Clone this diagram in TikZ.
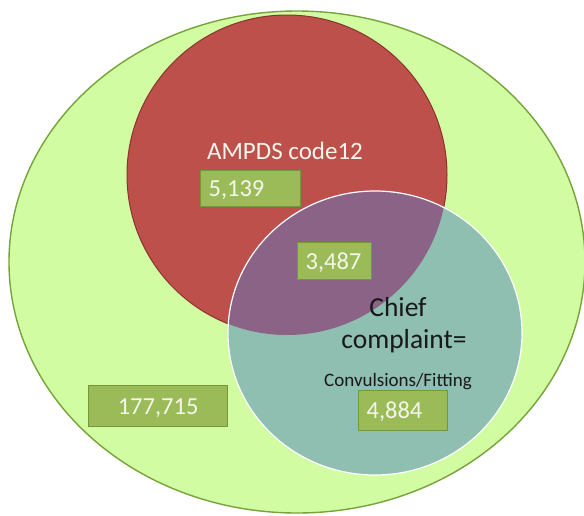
\documentclass[tikz,border=0pt]{standalone}
\usepackage{fontspec}
\setmainfont{Carlito}
\definecolor{outerfill}{HTML}{D1FCA2}
\definecolor{outerline}{HTML}{76A33A}
\definecolor{redfill}{HTML}{BE504C}
\definecolor{redline}{HTML}{8A3330}
\definecolor{tealfill}{HTML}{8EBFB0}
\definecolor{purplefill}{HTML}{8B6387}
\definecolor{boxfill}{HTML}{9BBB59}
\definecolor{boxline}{HTML}{739838}
\definecolor{numtext}{HTML}{F4F6EC}
\begin{document}
\begin{tikzpicture}[x=1pt,y=-1pt,
  outerset/.style={fill=outerfill,draw=outerline,line width=1.4pt},
  redset/.style={fill=redfill,draw=redline,line width=1pt},
  numbox/.style={rectangle,fill=boxfill,draw=boxline,line width=1.2pt,
    text=numtext,font=\fontsize{24.5}{28}\selectfont,
    inner xsep=8pt,inner ysep=0pt,text height=16pt,text depth=0pt,align=left},
  whitelabel/.style={text=numtext,font=\fontsize{25}{29}\selectfont,inner sep=0pt,anchor=base},
  darklabel/.style={text=black!90,inner sep=0pt,anchor=base}]
\useasboundingbox (0,0) rectangle (584,515);
\fill[white] (0,0) rectangle (584,515);
% outer population
\draw[outerset] (297,262) ellipse [x radius=288, y radius=251];
% AMPDS code 12
\draw[redset] (287,175) circle [radius=160];
% chief complaint
\fill[tealfill] (375,333) ellipse [x radius=147, y radius=142];
\begin{scope}
  \clip (287,175) circle [radius=160];
  \fill[purplefill] (375,333) ellipse [x radius=147, y radius=142];
\end{scope}
\draw[white,line width=1.2pt] (375,333) ellipse [x radius=147, y radius=142];
% labels
\node[whitelabel] (ampds) at (285,159) {AMPDS code12};
\node[darklabel,font=\fontsize{27.5}{32}\selectfont,align=center] (chief) at (404,348) {Chief\rule{12pt}{0pt}\\complaint=};
\node[darklabel,font=\fontsize{19}{22}\selectfont] (conv) at (398,386) {Convulsions/Fitting};
% number boxes
\node[numbox,anchor=north west,text width=84pt,minimum height=36pt] (n1) at (200,170) {5,139};
\node[numbox,anchor=north west,text width=58pt,minimum height=37pt] (n2) at (297,242) {3,487};
\node[numbox,anchor=north west,text width=73pt,minimum height=40pt] (n3) at (358,390) {4,884};
\node[numbox,anchor=north west,text width=123pt,minimum height=41pt,align=center] (n4) at (88,385) {177,715};
\end{tikzpicture}
\end{document}
